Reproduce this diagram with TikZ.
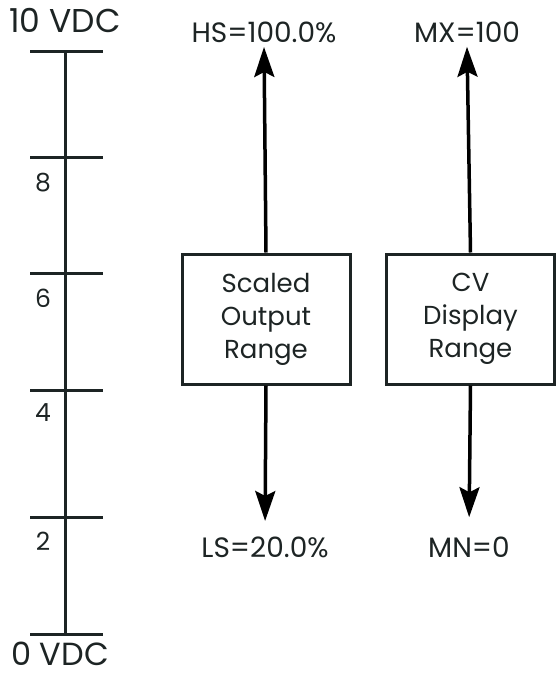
\documentclass[tikz,border=0pt]{standalone}
\usepackage{fontspec}
\setmainfont{Poppins}
\usetikzlibrary{arrows.meta}
\definecolor{inkdark}{HTML}{1D2424}

\begin{document}
\begin{tikzpicture}[x=1pt,y=-1pt,
  line width=3pt, inkdark,
  ticklabel/.style={font=\fontsize{25}{28}\selectfont, text=inkdark},
  endlabel/.style={font=\fontsize{33}{38}\selectfont, text=inkdark, inner sep=0pt},
  rangelabel/.style={font=\fontsize{28}{30}\selectfont, text=inkdark, inner sep=3pt},
  rangebox/.style={draw, minimum width=168pt, minimum height=130pt, align=center,
    font=\fontsize{26}{33}\selectfont, text=inkdark},
  rangearrow/.style={black, line width=3.5pt, -{Stealth[length=30pt,width=20pt,inset=5pt]}}]
\useasboundingbox (0,0) rectangle (556,677);
% voltage scale
\coordinate (vtop) at (65,52);
\coordinate (vbot) at (65,634);
\draw (vtop) -- (vbot);
\foreach \y in {52,157,273,390,517,634}
  \draw (30,\y) -- (103,\y);
\node[endlabel] (v10) at (65,20) {10 VDC};
\node[endlabel, font=\fontsize{32}{36}\selectfont] (v0) at (60,654) {0 VDC};
\foreach \y/\v in {183/8,298/6,413/4,541/2}
  \node[ticklabel] (t\v) at (43,\y) {\v};
% range boxes
\node[rangebox] (sor) at (266,319) {Scaled\\Output\\Range};
\node[rangebox] (cvr) at (470.5,319) {CV\\Display\\Range};
\node[rangelabel] (hs) at (264,32) {HS=100.0\%};
\node[rangelabel] (ls) at (265,547) {LS=20.0\%};
\node[rangelabel] (mx) at (467,32) {MX=100};
\node[rangelabel] (mn) at (469,547) {MN=0};
\draw[rangearrow] (sor.north) -- (hs.south);
\draw[rangearrow, shorten >=11pt] (sor.south) -- (ls.north);
\draw[rangearrow] (cvr.north) -- (mx.south);
\draw[rangearrow, shorten >=15pt] (cvr.south) -- (mn.north);
\end{tikzpicture}
\end{document}
